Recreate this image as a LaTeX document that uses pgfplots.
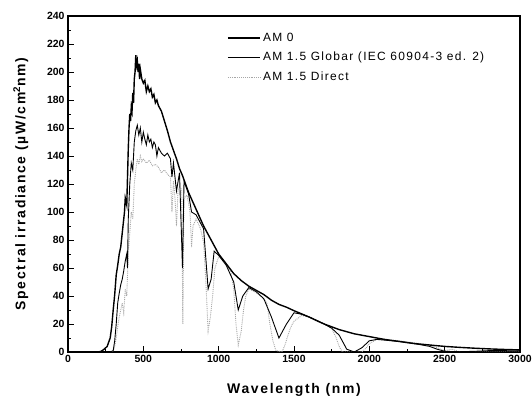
\documentclass[border=0pt]{standalone}
\usepackage{fontspec}
\setmainfont{Liberation Sans}
\newfontfamily\spaced[LetterSpace=12]{Liberation Sans}
\newfontfamily\legfont[LetterSpace=11]{Liberation Sans}
\usepackage{pgfplots}
\pgfplotsset{compat=1.18}

\pgfplotsset{
  spec/.style={
    width=452bp, height=336bp, scale only axis,
    xmin=0, xmax=3000, ymin=0, ymax=240,
    xtick={0,500,...,3000}, ytick={0,20,...,240},
    minor x tick num=1, minor y tick num=1,
    xtick pos=bottom, ytick pos=left,
    tick align=inside,
    major tick length=6bp, minor tick length=3bp,
    axis line style={line width=1.1pt},
    every tick/.style={black, line width=0.9pt},
    /pgf/number format/assume math mode=true,
    /pgf/number format/1000 sep={},
    tick label style={font=\bfseries\fontsize{10.5}{12}\selectfont},
    label style={font=\spaced\bfseries\fontsize{14}{16}\selectfont},
    xlabel={Wavelength (nm)},
    ylabel={Spectral irradiance (µW/cm\textsuperscript{2}nm)},
    xlabel style={yshift=-14bp},
    ylabel style={yshift=12bp},
    legend style={at={(rel axis cs:0.345,0.962)}, anchor=north west,
      draw=none, fill=none, font=\legfont\fontsize{12}{14}\selectfont,
      row sep=5.5bp},
    legend cell align=left,
    legend image code/.code={\draw[#1] (0cm,0cm) -- (1.15cm,0cm);},
    reverse legend,
  }
}

\begin{document}
\begin{tikzpicture}
\begin{axis}[spec]
% AM 1.5 Direct
\addplot[gray!70, densely dotted, line width=0.9pt] coordinates {
(290,0) (300,0.5) (310,4) (320,10) (330,18) (340,25) (350,30) (360,35) (370,28)
(380,45) (390,40) (400,70) (410,85) (420,100) (430,95) (440,120) (450,130)
(460,138) (470,134) (480,140) (490,136) (500,138) (520,135) (540,137) (560,133)
(580,134) (600,132) (620,128) (640,130) (660,127) (680,125) (690,100) (700,122)
(710,110) (720,90) (730,115) (740,118) (755,116) (762,20) (770,110) (790,112)
(810,100) (820,75) (830,90) (850,95) (880,88) (900,78) (915,50) (930,15)
(945,25) (960,40) (975,60) (1000,68) (1020,67) (1050,63) (1080,58) (1100,45)
(1115,20) (1130,5) (1150,15) (1165,30) (1180,40) (1200,45) (1240,43) (1280,40)
(1320,35) (1340,20) (1360,8) (1380,1) (1420,0) (1440,5) (1460,12) (1480,18)
(1500,22) (1550,26) (1600,25) (1650,22) (1700,20) (1750,17) (1780,10) (1800,4)
(1820,0) (1950,0) (1980,3) (2000,6) (2050,9) (2100,9) (2150,8.5) (2200,8)
(2300,6.5) (2400,5) (2450,3) (2500,1) (2550,2) (2600,0) (3000,0)
};
\addlegendentry{AM 1.5 Direct}
% AM 1.5 Global
\addplot[black, line width=0.9pt] coordinates {
(280,0) (300,1) (310,8) (320,20) (330,35) (340,42) (350,48) (360,52) (370,58)
(380,65) (390,70) (395,60) (400,95) (410,120) (420,135) (430,130) (440,150)
(450,158) (460,162) (470,155) (480,160) (490,150) (500,157) (510,152) (520,148)
(530,155) (540,150) (550,152) (560,146) (570,150) (580,148) (590,140) (600,146)
(620,142) (640,140) (660,142) (680,138) (690,125) (700,135) (720,115) (740,128)
(760,60) (770,122) (800,113) (820,100) (850,98) (900,88) (930,45) (950,52)
(970,72) (1000,69) (1050,62) (1100,50) (1130,30) (1160,40) (1200,46) (1250,43)
(1300,38) (1350,25) (1400,10) (1450,20) (1500,28) (1550,27) (1600,25) (1700,20)
(1750,17) (1800,12) (1850,2) (1900,0) (1950,3) (2000,8) (2050,9) (2100,8.5)
(2200,7.5) (2300,6) (2400,4) (2450,2) (2500,0.5) (2600,0.2) (2700,0.5)
(2800,1) (2900,1.2) (3000,1.3)
};
\addlegendentry{AM 1.5 Globar (IEC 60904-3 ed. 2)}
% AM 0
\addplot[black, line width=1.4pt] coordinates {
(200,0) (220,0.5) (240,2) (260,4) (270,7) (280,10) (290,18) (300,30) (310,41)
(320,55) (330,62) (340,70) (350,75) (360,85) (370,95) (375,100) (380,110)
(390,105) (395,125) (400,145) (405,160) (410,170) (415,165) (420,175) (425,172)
(430,185) (435,178) (440,195) (445,200) (450,212) (455,205) (460,208) (465,200)
(470,206) (475,195) (480,202) (490,195) (500,192) (510,194) (520,186) (530,190)
(540,186) (550,188) (560,182) (570,184) (580,178) (590,180) (600,176) (620,172)
(640,165) (660,158) (680,150) (700,144) (720,138) (740,131) (760,126) (780,120)
(800,114) (850,102) (900,90) (950,80) (1000,70) (1050,63) (1100,56) (1150,51)
(1200,47) (1250,44) (1300,41) (1350,37) (1400,34) (1450,32) (1500,29.5)
(1600,25) (1700,20) (1800,16) (1900,13) (2000,11) (2100,9) (2200,7.5)
(2300,6) (2400,5) (2500,4) (2600,3.3) (2700,2.7) (2800,2.2) (2900,1.8) (3000,1.5)
};
\addlegendentry{AM 0}
\end{axis}
\pgfresetboundingbox
\useasboundingbox (-68bp,-48bp) rectangle (464bp,352bp);
\end{tikzpicture}
\end{document}
